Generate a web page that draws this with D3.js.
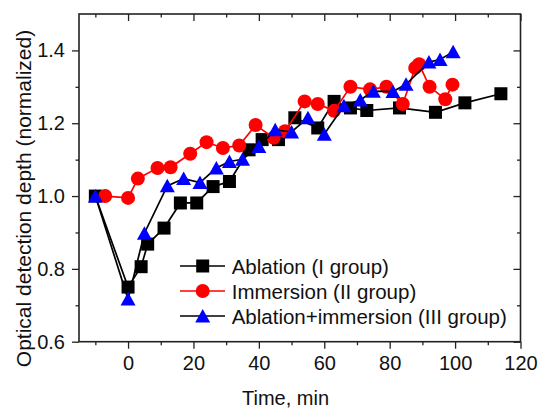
<!DOCTYPE html>
<html>
<head>
<meta charset="utf-8">
<script src="https://cdn.jsdelivr.net/npm/d3@7"></script>
<style>
  body { margin: 0; background: #fff; }
  text { font-family: "Liberation Sans", Arial, sans-serif; }
</style>
</head>
<body>
<div id="chart"></div>
<script>
// data
var timeI = [-10, 0, 4, 6, 11, 16, 21, 26, 31, 37, 41, 46, 51, 58, 63, 68, 73, 83, 94, 103, 114];
var depthI = [1.0, 0.75, 0.806, 0.868, 0.912, 0.981, 0.981, 1.026, 1.04, 1.127, 1.155, 1.155, 1.215, 1.187, 1.26, 1.242, 1.235, 1.242, 1.23, 1.256, 1.281];

var timeII = [-7, 0, 3, 9, 13, 19, 24, 29, 34, 39, 44.5, 48, 54, 58, 63, 68, 74, 79, 84, 87.8, 89, 92.2, 97, 99.2];
var depthII = [1.0, 0.995, 1.048, 1.077, 1.079, 1.116, 1.148, 1.132, 1.139, 1.195, 1.16, 1.178, 1.26, 1.253, 1.234, 1.3, 1.293, 1.3, 1.253, 1.352, 1.362, 1.3, 1.266, 1.306];

var timeIII = [-10, 0, 5, 12, 17, 22, 27, 31, 35, 40, 45, 50, 55, 60, 66, 71, 75, 81, 85, 92, 95.4, 99.4];
var depthIII = [1.0, 0.717, 0.898, 1.028, 1.048, 1.037, 1.077, 1.095, 1.101, 1.136, 1.182, 1.176, 1.215, 1.17, 1.248, 1.264, 1.288, 1.287, 1.307, 1.368, 1.375, 1.396];

var seriesNames = ["Ablation (I group)", "Immersion (II group)", "Ablation+immersion (III group)"];
var xMajor = [0, 20, 40, 60, 80, 100, 120];
var xMinor = [-10, 10, 30, 50, 70, 90, 110];
var yMajor = [0.6, 0.8, 1.0, 1.2, 1.4];
var yMinor = [0.7, 0.9, 1.1, 1.3];

var margin = {top: 14, right: 24.5, bottom: 68.3, left: 79},
    width = 545 - margin.left - margin.right,
    height = 410 - margin.top - margin.bottom;

var svg = d3.select("#chart")
  .append("svg")
    .attr("width", 545)
    .attr("height", 410)
  .append("g")
    .attr("transform", "translate(" + margin.left + "," + margin.top + ")");

var x = d3.scaleLinear().domain([-15, 120]).range([0, width]);
var y = d3.scaleLinear().domain([0.6, 1.5]).range([height, 0]);

// axes: outward ticks bottom/left, inward mirror ticks top/right
function styleAxis(g) {
  g.selectAll(".domain").remove();
  g.selectAll("line").attr("stroke", "#222").attr("stroke-width", 1.3);
  g.selectAll("text").style("font-size", "20px").attr("fill", "#111");
}

svg.append("g")
  .attr("transform", "translate(0," + height + ")")
  .call(d3.axisBottom(x).tickValues(xMajor).tickSize(7).tickPadding(7).tickFormat(d3.format("d")))
  .call(styleAxis);
svg.append("g")
  .attr("transform", "translate(0," + height + ")")
  .call(d3.axisBottom(x).tickValues(xMinor).tickSize(3.5).tickFormat(""))
  .call(styleAxis);
svg.append("g")
  .call(d3.axisLeft(y).tickValues(yMajor).tickSize(7).tickPadding(7).tickFormat(d3.format(".1f")))
  .call(styleAxis);
svg.append("g")
  .call(d3.axisLeft(y).tickValues(yMinor).tickSize(3.5).tickFormat(""))
  .call(styleAxis);
svg.append("g")
  .call(d3.axisTop(x).tickValues(xMajor).tickSize(-7).tickFormat(""))
  .call(styleAxis);
svg.append("g")
  .call(d3.axisTop(x).tickValues(xMinor).tickSize(-3.5).tickFormat(""))
  .call(styleAxis);
svg.append("g")
  .attr("transform", "translate(" + width + ",0)")
  .call(d3.axisRight(y).tickValues(yMajor).tickSize(-7).tickFormat(""))
  .call(styleAxis);
svg.append("g")
  .attr("transform", "translate(" + width + ",0)")
  .call(d3.axisRight(y).tickValues(yMinor).tickSize(-3.5).tickFormat(""))
  .call(styleAxis);

svg.append("rect")
  .attr("width", width).attr("height", height)
  .attr("fill", "none").attr("stroke", "#222").attr("stroke-width", 1.6);

// titles
svg.append("text")
  .attr("x", 285.5 - margin.left).attr("y", 405 - margin.top)
  .attr("text-anchor", "middle").style("font-size", "20px").attr("fill", "#111")
  .text("Time, min");
svg.append("text")
  .attr("transform", "translate(" + (31 - margin.left) + "," + (198.5 - margin.top) + ") rotate(-90)")
  .attr("text-anchor", "middle").style("font-size", "21px").attr("fill", "#111")
  .text("Optical detection depth (normalized)");

// markers
var triPath = "M0,-7L7.5,6.5L-7.5,6.5Z";
function drawMarker(g, kind, color) {
  if (kind == "square") {
    g.append("rect").attr("x", -6.5).attr("y", -6.5).attr("width", 13).attr("height", 13).attr("fill", color);
  } else if (kind == "circle") {
    g.append("circle").attr("r", 7).attr("fill", color);
  } else {
    g.append("path").attr("d", triPath).attr("fill", color);
  }
}

var dataReady = [
  {name: seriesNames[0], kind: "square", line: "#000", fill: "#000", values: timeI.map(function(t, i) { return {t: t, v: depthI[i]}; })},
  {name: seriesNames[1], kind: "circle", line: "#ff0000", fill: "#ff0000", values: timeII.map(function(t, i) { return {t: t, v: depthII[i]}; })},
  {name: seriesNames[2], kind: "triangle", line: "#000", fill: "#0000ff", values: timeIII.map(function(t, i) { return {t: t, v: depthIII[i]}; })}
];

var line = d3.line()
  .x(function(d) { return x(d.t); })
  .y(function(d) { return y(d.v); });

dataReady.forEach(function(s) {
  svg.append("path")
    .attr("d", line(s.values))
    .attr("fill", "none")
    .attr("stroke", s.line)
    .attr("stroke-width", 1.7);
  s.values.forEach(function(d) {
    var g = svg.append("g").attr("transform", "translate(" + x(d.t) + "," + y(d.v) + ")");
    drawMarker(g, s.kind, s.fill);
  });
});

// legend
var legend = svg.append("g").attr("transform", "translate(" + (180 - margin.left) + "," + (266 - margin.top) + ")");
dataReady.forEach(function(s, i) {
  var row = legend.append("g").attr("transform", "translate(0," + (i * 25) + ")");
  row.append("line").attr("x1", 0).attr("x2", 45).attr("y1", 0).attr("y2", 0)
    .attr("stroke", s.line).attr("stroke-width", 1.7);
  var m = row.append("g").attr("transform", "translate(22.7,0)");
  drawMarker(m, s.kind, s.fill);
  row.append("text").attr("x", 51.7).attr("y", 7.5)
    .style("font-size", "20.5px").attr("fill", "#111").text(s.name);
});
</script>
</body>
</html>
